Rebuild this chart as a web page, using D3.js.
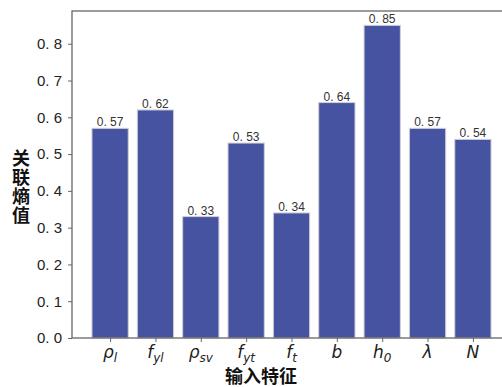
<!DOCTYPE html>
<html>
<head>
<meta charset="utf-8">
<script src="https://cdn.jsdelivr.net/npm/d3@7"></script>
<style>
  body { margin: 0; background: #fff; }
  svg { display: block; }
</style>
</head>
<body>
<div id="chart"></div>
<script>
// feature names: base symbol + subscript
var featureBase = ["ρ", "f", "ρ", "f", "f", "b", "h", "λ", "N"];
var featureSub = ["l", "yl", "sv", "yt", "t", "", "0", "", ""];
var entropyValues = [0.57, 0.62, 0.33, 0.53, 0.34, 0.64, 0.85, 0.57, 0.54];
var yTicks = [0.0, 0.1, 0.2, 0.3, 0.4, 0.5, 0.6, 0.7, 0.8];

(function() {
  var width = 502, height = 387;
  var margin = {left: 72, right: 511, top: 11, bottom: 338};

  var svg = d3.select("#chart").append("svg")
      .attr("width", width)
      .attr("height", height);

  var idx = d3.range(entropyValues.length);

  var x = d3.scaleLinear()
      .domain([-0.84, 8.84])
      .range([margin.left, margin.right]);

  var y = d3.scaleLinear()
      .domain([0, 0.889])
      .range([margin.bottom, margin.top]);

  var barW = x(0.8) - x(0);

  // bars
  svg.selectAll(".bar")
      .data(idx)
    .enter().append("rect")
      .attr("class", "bar")
      .attr("x", function(i) { return x(i) - barW / 2; })
      .attr("y", function(i) { return y(entropyValues[i]); })
      .attr("width", barW)
      .attr("height", function(i) { return y(0) - y(entropyValues[i]); })
      .attr("fill", "#4653a1")
      .attr("stroke", "#d0d0d8")
      .attr("stroke-width", 1);

  // value labels
  svg.selectAll(".val")
      .data(idx)
    .enter().append("text")
      .attr("class", "val")
      .attr("x", function(i) { return x(i); })
      .attr("y", function(i) { return y(entropyValues[i]) - 2; })
      .attr("text-anchor", "middle")
      .attr("font-family", "Liberation Sans, Arial, sans-serif")
      .attr("font-size", 12)
      .attr("fill", "#333")
      .text(function(i) { return entropyValues[i].toFixed(2).replace(".", ". "); });

  // y axis
  var yAxis = svg.append("g")
      .attr("transform", "translate(" + margin.left + ",0)")
      .call(d3.axisLeft(y).tickValues(yTicks).tickSize(4).tickPadding(6)
        .tickFormat(function(d) { return d.toFixed(1).replace(".", ". "); }));
  yAxis.select(".domain").remove();
  yAxis.selectAll("line").attr("stroke", "#666");
  yAxis.selectAll("text")
      .attr("font-family", "Liberation Sans, Arial, sans-serif")
      .attr("font-size", 15)
      .attr("fill", "#222");

  // x axis
  var xAxis = svg.append("g")
      .attr("transform", "translate(0," + margin.bottom + ")")
      .call(d3.axisBottom(x).tickValues(idx).tickSize(4).tickFormat(""));
  xAxis.select(".domain").remove();
  xAxis.selectAll("line").attr("stroke", "#666");

  // x tick labels (italic with subscripts)
  var xl = svg.selectAll(".xl")
      .data(idx)
    .enter().append("text")
      .attr("class", "xl")
      .attr("x", function(i) { return x(i); })
      .attr("y", margin.bottom + 20)
      .attr("text-anchor", "middle")
      .attr("font-family", "DejaVu Sans, sans-serif")
      .attr("font-style", "italic")
      .attr("font-size", 17)
      .attr("fill", "#222");
  xl.append("tspan").text(function(i) { return featureBase[i]; });
  xl.append("tspan")
      .attr("dy", 4)
      .attr("font-size", 12)
      .text(function(i) { return featureSub[i]; });

  // spines
  svg.append("rect")
      .attr("x", margin.left)
      .attr("y", margin.top)
      .attr("width", margin.right - margin.left)
      .attr("height", margin.bottom - margin.top)
      .attr("fill", "none")
      .attr("stroke", "#666")
      .attr("stroke-width", 1.3);

  // axis titles
  svg.append("text")
      .attr("x", 261)
      .attr("y", 383)
      .attr("text-anchor", "middle")
      .attr("font-family", "Noto Sans CJK SC, sans-serif")
      .attr("font-weight", "bold")
      .attr("font-size", 18)
      .attr("fill", "#111")
      .text("输入特征");

  var yl = svg.append("text")
      .attr("font-family", "Noto Sans CJK SC, sans-serif")
      .attr("font-weight", "bold")
      .attr("font-size", 18)
      .attr("fill", "#111")
      .attr("text-anchor", "middle");
  ["关", "联", "熵", "值"].forEach(function(c, k) {
    yl.append("tspan")
      .attr("x", 21)
      .attr("y", 165 + k * 19)
      .text(c);
  });
})();
</script>
</body>
</html>
